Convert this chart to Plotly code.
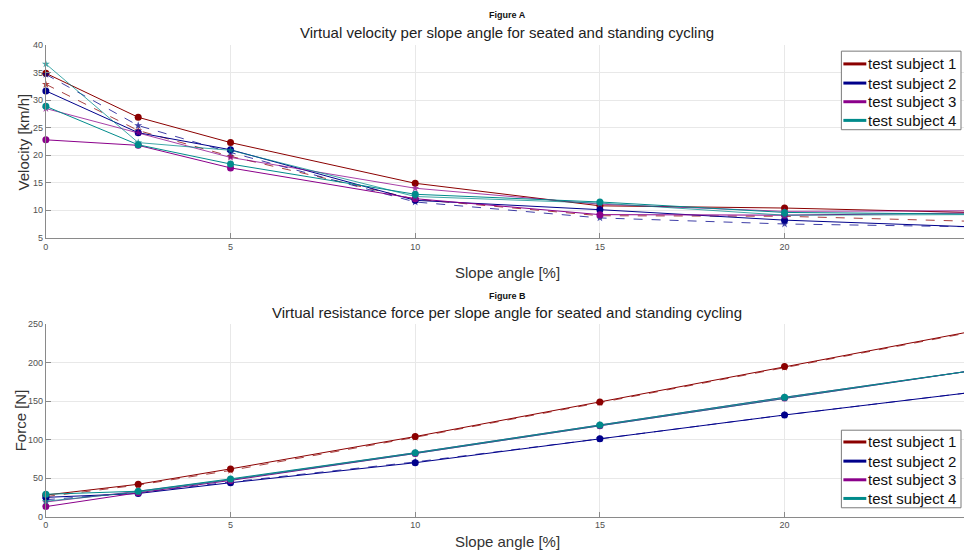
import plotly.graph_objects as go

# Slope angles [%]
slope = [0, 2.5, 5, 10, 15, 20, 25]

subjects = ["test subject 1", "test subject 2", "test subject 3", "test subject 4"]
colors = ["#8b0000", "#00008b", "#8b008b", "#008b8b"]

# Virtual velocity [km/h]
vel_seated_1 = [34.9, 26.9, 22.3, 14.9, 10.8, 10.4, 9.6]
vel_standing_1 = [32.9, 24.5, 19.8, 12.0, 9.0, 8.9, 8.0]
vel_seated_2 = [31.7, 24.1, 21.0, 11.8, 10.1, 8.2, 7.0]
vel_standing_2 = [34.7, 25.4, 20.5, 11.5, 8.6, 7.5, 7.0]
vel_seated_3 = [22.8, 21.8, 17.7, 12.1, 9.2, 9.1, 9.5]
vel_standing_3 = [28.5, 24.1, 19.6, 14.0, 11.1, 9.8, 9.9]
vel_seated_4 = [28.9, 21.9, 18.4, 12.9, 11.5, 9.6, 9.3]
vel_standing_4 = [36.6, 22.3, 20.9, 12.5, 11.3, 9.1, 9.2]

# Virtual resistance force [N]
force_seated_1 = [28, 42, 62, 104, 149, 195, 240]
force_standing_1 = [26, 41, 60, 103, 148, 194, 239]
force_seated_2 = [25, 30, 44, 70, 101, 132, 161]
force_standing_2 = [22, 31, 45, 71, 101, 132, 161]
force_seated_3 = [13, 31, 47, 82, 118, 154, 189]
force_standing_3 = [19, 33, 48, 83, 119, 155, 189]
force_seated_4 = [29, 33, 49, 83, 119, 155, 189]
force_standing_4 = [20, 32, 48, 82, 118, 154, 189]

vel_seated = [vel_seated_1, vel_seated_2, vel_seated_3, vel_seated_4]
vel_standing = [vel_standing_1, vel_standing_2, vel_standing_3, vel_standing_4]
force_seated = [force_seated_1, force_seated_2, force_seated_3, force_seated_4]
force_standing = [force_standing_1, force_standing_2, force_standing_3, force_standing_4]
standing_dash = ["dash", "dash", "solid", "solid"]

W, H = 964, 555
FONT = "Liberation Sans, Arial, sans-serif"

fig = go.Figure()


def add_panel(seated, standing, xa, ya):
    for i in range(4):
        fig.add_trace(go.Scatter(
            x=slope, y=standing[i], mode="lines+markers",
            line=dict(color=colors[i], width=1, dash=standing_dash[i]),
            marker=dict(symbol="star", size=6, color=colors[i]),
            opacity=0.75, showlegend=False, cliponaxis=False,
            xaxis=xa, yaxis=ya))
        fig.add_trace(go.Scatter(
            x=slope, y=seated[i], mode="lines+markers",
            line=dict(color=colors[i], width=1),
            marker=dict(symbol="circle", size=7, color=colors[i]),
            showlegend=False, cliponaxis=False, xaxis=xa, yaxis=ya))


add_panel(vel_seated, vel_standing, "x", "y")
add_panel(force_seated, force_standing, "x2", "y2")

x_left = 43 / W
x_range = [0, (W - 43) / 37.05]

axis_common = dict(
    showgrid=True, gridcolor="#e8e8e8", gridwidth=1,
    showline=True, linecolor="#8a8a8a", linewidth=1,
    ticks="inside", ticklen=5, tickcolor="#8a8a8a",
    tickfont=dict(family=FONT, size=9, color="#505050"),
    zeroline=False, mirror=False,
)

fig.update_layout(
    width=W, height=H,
    margin=dict(l=0, r=0, t=0, b=0),
    paper_bgcolor="white", plot_bgcolor="white",
    font=dict(family=FONT),
    showlegend=False,
    xaxis=dict(axis_common, domain=[x_left, 1], range=x_range,
               tickvals=[0, 5, 10, 15, 20, 25], anchor="y"),
    yaxis=dict(axis_common, domain=[1 - 237 / H, 1 - 41 / H], range=[5, 40],
               tickvals=[5, 10, 15, 20, 25, 30, 35, 40], anchor="x"),
    xaxis2=dict(axis_common, domain=[x_left, 1], range=x_range,
                tickvals=[0, 5, 10, 15, 20, 25], anchor="y2"),
    yaxis2=dict(axis_common, domain=[1 - 521 / H, 1 - 325 / H], range=[0, 250],
                tickvals=[0, 50, 100, 150, 200, 250], anchor="x2"),
)


def px_x(x):
    return x / W


def px_y(y):
    return 1 - y / H


def text(x, y, s, size, bold=False, angle=0, color="#222222", anchor="center"):
    fig.add_annotation(
        x=px_x(x), y=px_y(y), xref="paper", yref="paper",
        text=f"<b>{s}</b>" if bold else s, showarrow=False,
        font=dict(family=FONT, size=size, color=color),
        textangle=angle, xanchor=anchor, yanchor="middle")


def legend_box(x0, y0, x1, y1, rows):
    fig.add_shape(type="rect", xref="paper", yref="paper",
                  x0=px_x(x0), x1=px_x(x1), y0=px_y(y1), y1=px_y(y0),
                  line=dict(color="#7a7a7a", width=1), fillcolor="white",
                  layer="above")
    for i, ry in enumerate(rows):
        fig.add_shape(type="line", xref="paper", yref="paper",
                      x0=px_x(x0 + 2), x1=px_x(x0 + 25), y0=px_y(ry), y1=px_y(ry),
                      line=dict(color=colors[i], width=3), layer="above")
        text(x0 + 25, ry, subjects[i], 15, color="#111111", anchor="left")


text(506, 10, "Figure A", 9, bold=True, color="#111111")
text(506, 28, "Virtual velocity per slope angle for seated and standing cycling", 15)
text(506, 272, "Slope angle [%]", 15, color="#333333")
text(21, 139, "Velocity [km/h]", 15, angle=-90, color="#333333")
legend_box(841, 47, 961, 127, [60, 79.5, 98.5, 117.5])

text(506, 296, "Figure B", 9, bold=True, color="#111111")
text(506, 313, "Virtual resistance force per slope angle for seated and standing cycling", 15)
text(506, 546, "Slope angle [%]", 15, color="#333333")
text(17, 423, "Force [N]", 15, angle=-90, color="#333333")
legend_box(841, 433, 961, 512, [445, 464.5, 483.5, 502.5])

fig.write_html("out.html")
